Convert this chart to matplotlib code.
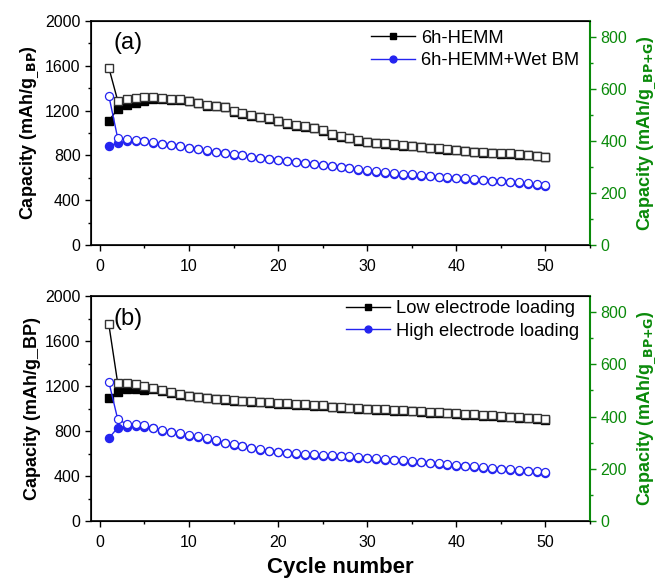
import matplotlib
matplotlib.use("Agg")
import matplotlib.pyplot as plt
from matplotlib.ticker import MultipleLocator
import numpy as np

plt.rcParams['font.family'] = ['Liberation Sans', 'DejaVu Sans']

cycles = list(range(1, 51))

# Panel (a)
a_hemm_charge = [1583, 1288, 1304, 1315, 1324, 1318, 1310, 1301, 1301, 1288,
                 1271, 1250, 1244, 1235, 1196, 1176, 1161, 1146, 1131, 1110,
                 1086, 1071, 1062, 1048, 1027, 988, 973, 958, 938, 923,
                 914, 908, 899, 893, 887, 878, 869, 863, 857, 851,
                 842, 833, 827, 824, 821, 818, 812, 806, 797, 789]
a_hemm_discharge = [1110, 1214, 1250, 1271, 1288, 1308, 1302, 1294, 1294, 1282,
                    1265, 1244, 1238, 1229, 1190, 1170, 1155, 1140, 1125, 1104,
                    1080, 1065, 1056, 1042, 1021, 982, 967, 952, 932, 917,
                    908, 902, 893, 887, 881, 872, 863, 857, 851, 845,
                    836, 827, 821, 818, 815, 812, 806, 800, 791, 783]
a_wet_charge = [1333, 953, 944, 938, 929, 917, 902, 893, 884, 869,
                857, 845, 833, 824, 812, 804, 789, 780, 771, 762,
                753, 744, 735, 726, 714, 705, 698, 690, 678, 669,
                660, 648, 639, 633, 630, 624, 618, 609, 603, 600,
                594, 588, 580, 574, 571, 565, 559, 550, 541, 535]
a_wet_discharge = [887, 908, 925, 930, 925, 913, 898, 889, 880, 865,
                   853, 841, 829, 820, 808, 800, 785, 776, 767, 758,
                   749, 740, 731, 722, 710, 701, 694, 686, 674, 665,
                   656, 644, 635, 629, 626, 620, 614, 605, 599, 596,
                   590, 584, 576, 570, 567, 561, 555, 546, 537, 531]

# Panel (b)
b_low_charge = [1748, 1224, 1224, 1219, 1200, 1185, 1164, 1147, 1129, 1114,
                1105, 1096, 1087, 1081, 1076, 1070, 1064, 1061, 1055, 1049,
                1047, 1041, 1038, 1032, 1027, 1016, 1012, 1008, 1004, 1000,
                996, 992, 988, 984, 980, 975, 970, 966, 962, 957,
                952, 948, 943, 938, 933, 928, 923, 918, 912, 906]
b_low_discharge = [1090, 1150, 1173, 1173, 1164, 1176, 1156, 1140, 1122, 1108,
                   1099, 1090, 1081, 1075, 1070, 1064, 1058, 1055, 1049, 1043,
                   1041, 1035, 1032, 1026, 1021, 1010, 1006, 1002, 998, 994,
                   990, 986, 982, 978, 974, 969, 964, 960, 956, 951,
                   946, 942, 937, 932, 927, 922, 917, 912, 906, 900]
b_high_charge = [1238, 904, 862, 862, 850, 830, 809, 794, 779, 764,
                 755, 735, 720, 696, 684, 669, 652, 637, 625, 616,
                 607, 601, 595, 593, 587, 585, 580, 575, 569, 563,
                 557, 551, 545, 539, 533, 527, 520, 513, 506, 499,
                 492, 485, 478, 471, 465, 459, 453, 447, 441, 436]
b_high_discharge = [735, 830, 839, 845, 840, 824, 803, 788, 773, 758,
                    749, 729, 714, 690, 678, 663, 646, 631, 619, 610,
                    601, 595, 589, 587, 581, 579, 574, 569, 563, 557,
                    551, 545, 539, 533, 527, 521, 514, 507, 500, 493,
                    486, 479, 472, 465, 459, 453, 447, 441, 435, 430]

panel_labels = ['(a)', '(b)']
legend_a = ['6h-HEMM', '6h-HEMM+Wet BM']
legend_b = ['Low electrode loading', 'High electrode loading']
right_max = 862

green = '#0a8a0a'
blue = '#2424f0'

fig = plt.figure(figsize=(6.6, 5.81), dpi=100)
ax_a = fig.add_axes([91/660, 1-245/581, 499/660, 224/581])
ax_b = fig.add_axes([91/660, 1-521/581, 499/660, 225/581])

def draw(ax, charge1, dis1, charge2, dis2, labels, plabel, ylab, leg_y):
    ms = 5.4
    l1, = ax.plot(cycles, dis1, '-', color='black', marker='s', ms=ms, mfc='black',
                  mec='black', lw=1, zorder=3)
    ax.plot(cycles, charge1, '-', color='black', marker='s', ms=ms, mfc='white',
            mec='#333333', mew=1.0, lw=1, zorder=4)
    l2, = ax.plot(cycles, dis2, '-', color=blue, marker='o', ms=ms + 0.4, mfc=blue,
                  mec=blue, lw=1, zorder=3)
    ax.plot(cycles, charge2, '-', color=blue, marker='o', ms=ms + 0.4, mfc='white',
            mec=blue, mew=0.9, lw=1, zorder=4)
    ax.set_xlim(-1, 55)
    ax.set_ylim(0, 2000)
    ax.xaxis.set_major_locator(MultipleLocator(10))
    ax.xaxis.set_minor_locator(MultipleLocator(5))
    ax.yaxis.set_major_locator(MultipleLocator(400))
    ax.yaxis.set_minor_locator(MultipleLocator(200))
    ax.tick_params(axis='both', which='major', direction='out', length=4, width=1,
                   labelsize=11.5, top=False, right=False)
    ax.tick_params(axis='both', which='minor', direction='out', length=2.5, width=1,
                   top=False, right=False)
    ax.tick_params(axis='x', pad=6)
    for s in ax.spines.values():
        s.set_linewidth(1.2)
    ax.set_ylabel(ylab, fontsize=13, fontweight='bold', labelpad=3)
    ax.text(0.045, 0.9, plabel, transform=ax.transAxes, fontsize=17, va='center', ha='left')
    ax.legend([l1, l2], labels, loc='upper right', bbox_to_anchor=(1.0, leg_y),
              frameon=False, fontsize=13.2, handlelength=2.4, handletextpad=0.3,
              labelspacing=0.3, borderaxespad=0.2, markerscale=0.85)

    ax2 = ax.twinx()
    ax2.set_ylim(0, right_max)
    ax2.yaxis.set_major_locator(MultipleLocator(200))
    ax2.yaxis.set_minor_locator(MultipleLocator(100))
    ax2.tick_params(axis='y', which='major', direction='out', length=4, width=1,
                    colors=green, labelsize=11.5, labelcolor=green)
    ax2.tick_params(axis='y', which='minor', direction='out', length=2.5, width=1,
                    colors=green)
    ax2.spines['right'].set_color(green)
    ax2.spines['right'].set_linewidth(1.5)
    ax2.set_ylabel('Capacity (mAh/g$_{\\_\\mathbf{BP{+}G}}$)', color=green, fontsize=13,
                   fontweight='bold', labelpad=6)
    return ax2

draw(ax_a, a_hemm_charge, a_hemm_discharge, a_wet_charge, a_wet_discharge,
     legend_a, panel_labels[0], 'Capacity (mAh/g$_{\\_\\mathbf{BP}}$)', 1.01)
draw(ax_b, b_low_charge, b_low_discharge, b_high_charge, b_high_discharge,
     legend_b, panel_labels[1], 'Capacity (mAh/g_BP)', 1.03)

fig.text(340/660, 1-568/581, 'Cycle number', ha='center', va='center',
         fontsize=16, fontweight='bold')

fig.savefig('out.png', dpi=100)
